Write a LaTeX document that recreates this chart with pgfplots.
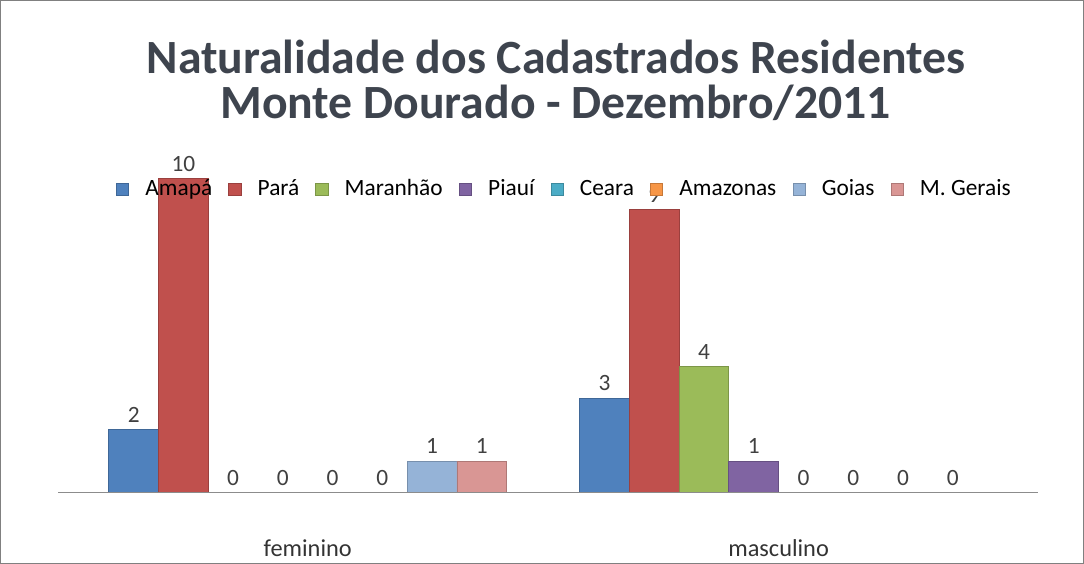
\documentclass[border=0pt]{standalone}
\usepackage{pgfplots}
\pgfplotsset{compat=1.18}
\usepackage{fontspec}
\setmainfont{Carlito}
\definecolor{cA}{RGB}{79,129,189}
\definecolor{cB}{RGB}{192,80,77}
\definecolor{cC}{RGB}{155,187,89}
\definecolor{cD}{RGB}{128,100,162}
\definecolor{cE}{RGB}{75,172,198}
\definecolor{cF}{RGB}{247,150,70}
\definecolor{cG}{RGB}{149,179,215}
\definecolor{cH}{RGB}{217,150,148}
\definecolor{titlec}{RGB}{62,68,78}
\begin{document}
\begin{tikzpicture}
\begin{axis}[
  width=482.5pt, height=162.5pt, scale only axis,
  /pgf/number format/assume math mode=true,
  ybar=0pt, bar width=24.5pt,
  xmin=-0.53, xmax=1.55, ymin=0, ymax=10.5,
  axis lines=none,
  xtick={0,1}, xticklabels={feminino,masculino},
  ytick=\empty,
  clip=false,
  nodes near coords,
  every node near coord/.append style={font=\fontsize{11.5}{13}\selectfont, text=black!75},
  legend columns=8,
  legend style={draw=none, fill=none, at={(0.518,0.92)}, anchor=center,
    font=\fontsize{11.5}{13}\selectfont, column sep=6pt},
  legend image code/.code={\fill[#1] (0pt,-3pt) rectangle (6pt,3pt);},
]
\addplot[fill=cA, draw=cA!80!black] coordinates {(0,2) (1,3)};
\addplot[fill=cB, draw=cB!80!black] coordinates {(0,10) (1,9)};
\addplot[fill=cC, draw=cC!80!black] coordinates {(0,0) (1,4)};
\addplot[fill=cD, draw=cD!80!black] coordinates {(0,0) (1,1)};
\addplot[fill=cE, draw=cE!80!black] coordinates {(0,0) (1,0)};
\addplot[fill=cF, draw=cF!80!black] coordinates {(0,0) (1,0)};
\addplot[fill=cG, draw=cG!80!black] coordinates {(0,1) (1,0)};
\addplot[fill=cH, draw=cH!80!black] coordinates {(0,1) (1,0)};
\legend{Amapá,Pará,Maranhão,Piauí,Ceara,Amazonas,Goias,M. Gerais}
\draw[black!45] (rel axis cs:0,0) -- (rel axis cs:1,0);
\node[font=\fontsize{12}{14}\selectfont, text=black!80] at (axis cs:0,0) [yshift=-27.5pt] {feminino};
\node[font=\fontsize{12}{14}\selectfont, text=black!80] at (axis cs:1,0) [yshift=-27.5pt] {masculino};
\node[align=center, font=\bfseries\fontsize{23.5}{22}\selectfont, text=titlec] at (rel axis cs:0.508,1.25) {Naturalidade dos Cadastrados Residentes\\Monte Dourado - Dezembro/2011};
\draw[black!50] (rel axis cs:-0.059,-0.215) rectangle (rel axis cs:1.047,1.492);
\end{axis}
\end{tikzpicture}
\end{document}
